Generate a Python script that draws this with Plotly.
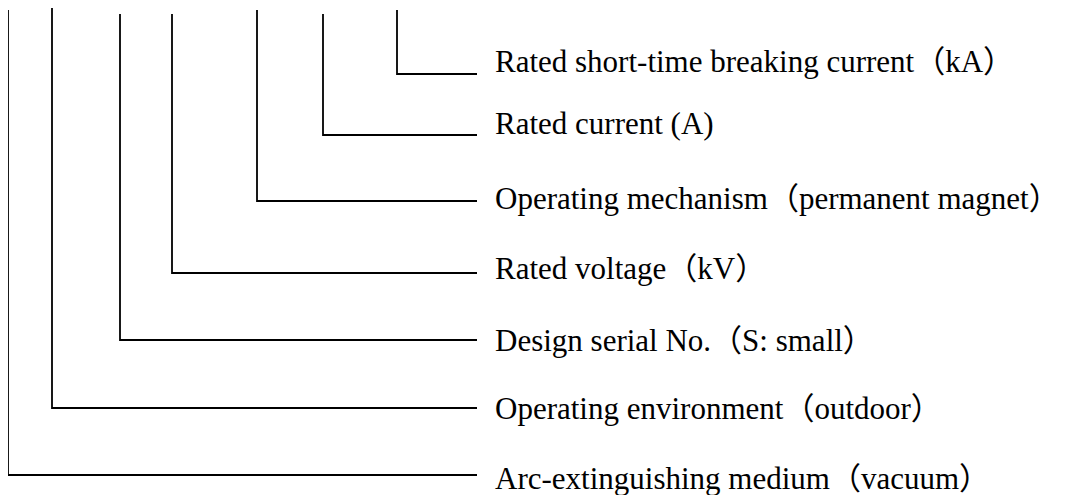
import plotly.graph_objects as go

# Diagram data (pixel space of the 1065x495 page)
labels = [
    "Rated short-time breaking current（kA）",
    "Rated current (A)",
    "Operating mechanism（permanent magnet）",
    "Rated voltage（kV）",
    "Design serial No.（S: small）",
    "Operating environment（outdoor）",
    "Arc-extinguishing medium（vacuum）",
]
stem_x = [397, 323, 257, 172, 120, 52, 8]
stem_top = [10, 14, 10, 14, 14, 8, 10]
branch_y = [74, 135, 201, 273, 340, 408, 475]
branch_end_x = [477] * 7
label_baseline_y = [73, 135, 210, 280, 352, 420, 490]

PAGE_W, PAGE_H = 1065, 495
OFF = 8  # default body margin of the page
W, H = PAGE_W - OFF, PAGE_H - OFF

xs, ys = [], []
for sx, st, by, ex in zip(stem_x, stem_top, branch_y, branch_end_x):
    xs += [sx, sx, ex, None]
    ys += [st, by, by, None]

fig = go.Figure()
fig.add_trace(go.Scatter(x=xs, y=ys, mode="lines",
                         line=dict(color="#000000", width=1.8),
                         hoverinfo="skip", showlegend=False))

FS = 31
for lab, by in zip(labels, label_baseline_y):
    fig.add_annotation(x=493, y=by - 0.36 * FS, text=lab, showarrow=False,
                       xanchor="left", yanchor="middle",
                       font=dict(family="Liberation Serif, 'Noto Sans CJK SC', serif",
                                 size=FS, color="#000000"))

fig.update_layout(
    width=W, height=H, margin=dict(l=0, r=0, t=0, b=0),
    paper_bgcolor="white", plot_bgcolor="white",
    xaxis=dict(range=[OFF, PAGE_W], visible=False, fixedrange=True),
    yaxis=dict(range=[PAGE_H, OFF], visible=False, fixedrange=True),
)
fig.write_html("out.html")
